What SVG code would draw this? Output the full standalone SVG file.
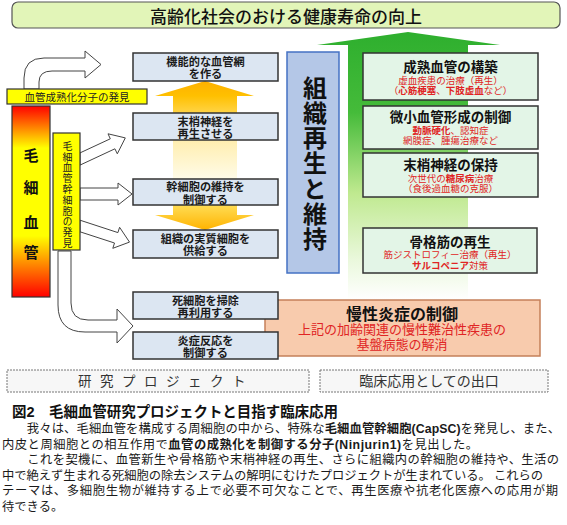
<svg xmlns="http://www.w3.org/2000/svg" width="567" height="525" viewBox="0 0 567 525">
<defs>
<linearGradient id="gGreen" x1="0" y1="32" x2="0" y2="300" gradientUnits="userSpaceOnUse">
<stop offset="0" stop-color="#2eaf2e"/>
<stop offset="0.3" stop-color="#45bb3a"/>
<stop offset="0.6" stop-color="#bfe98f"/>
<stop offset="0.85" stop-color="#eaf8dc"/>
<stop offset="1" stop-color="#ffffff"/>
</linearGradient>
<linearGradient id="gYellow" x1="0" y1="81" x2="0" y2="230" gradientUnits="userSpaceOnUse">
<stop offset="0" stop-color="#ffb000"/>
<stop offset="0.1" stop-color="#ffc000"/>
<stop offset="0.22" stop-color="#ffd54a"/>
<stop offset="0.4" stop-color="#ffeeb0"/>
<stop offset="0.65" stop-color="#fffbe6"/>
<stop offset="0.83" stop-color="#ffdd55"/>
<stop offset="1" stop-color="#ffb300"/>
</linearGradient>
<linearGradient id="gCap" x1="0" y1="106" x2="0" y2="297" gradientUnits="userSpaceOnUse">
<stop offset="0" stop-color="#ff0000"/>
<stop offset="0.22" stop-color="#ffff00"/>
<stop offset="0.68" stop-color="#ffff00"/>
<stop offset="1" stop-color="#ff0000"/>
</linearGradient>
<style>
.j{font-family:"Liberation Sans","Noto Sans CJK JP",sans-serif;}
.l{font-family:"Liberation Sans","Noto Sans CJK JP",sans-serif;}
.mid{text-anchor:middle;}
.vt{writing-mode:vertical-rl;}
.bx{fill:#dce6f2;stroke:#333;stroke-width:1.5;}
.gb{fill:#e3f5e7;stroke:#333;stroke-width:1.5;}
.yl{fill:#ffff00;stroke:#333;stroke-width:1.2;}
.oa{fill:#ffffff;stroke:#444;stroke-width:1;}
.dash{fill:#f7f7f7;stroke:#777;stroke-width:1;stroke-dasharray:2 1;}
.bt{font-size:11.2px;font-weight:700;fill:#1a1a1a;}
.gt{font-size:13.5px;font-weight:700;fill:#111;}
.rt{font-size:9.5px;fill:#e02424;}
.b{font-weight:700;}
.body{font-size:12.3px;fill:#1a1a1a;}
</style>
</defs>

<g id="title">
<rect x="12" y="2" width="548" height="26" rx="6" fill="#e2f5b8" stroke="#555" stroke-width="1.2"/>
<text class="j mid" x="286" y="23" font-size="17" font-weight="500" fill="#111">高齢化社会のおける健康寿命の向上</text>
</g>

<g id="connectors">
<path id="greenArrow" d="M408,32 L500,45 H468 V300 H348 V45 H317 Z" fill="url(#gGreen)"/>
<path id="yellowArrow" d="M205,81 L254,96 H237 V215 H254 L205,230 L155,215 H173 V96 H155 Z" fill="url(#gYellow)"/>
<path id="arrow1" class="oa" d="M24,89 V78 Q24,58 44,58 H85 V51 L101,64.5 L85,78 V71 H52 Q39,71 39,82 V89 Z"/>
<path id="arrow2" class="oa" d="M80,152.9 L110.3,138.8 L108,133.8 L125.3,137.9 L117.3,153.8 L114.9,148.8 L80,165.1 Z"/>
<path id="arrow3" class="oa" d="M80,188 H118 V183 L132,194 L118,205 V200 H80 Z"/>
<path id="arrow4" class="oa" d="M80,220.2 L117.9,232.6 L119.6,227.3 L129.5,242.1 L112.8,248.3 L114.5,243 L80,231.8 Z"/>
<path id="arrow5" class="oa" d="M58,251 V305 Q58,332 85,332 H117 V343 L133,326 L117,309 V320 H88 Q71,320 71,303 V251 Z"/>
</g>

<g id="capillary">
<rect x="12" y="106" width="38" height="191" fill="url(#gCap)" stroke="#333" stroke-width="1.2"/>
<text class="j mid" x="31" font-size="15" font-weight="700" fill="#111"><tspan x="31" y="160.7">毛</tspan><tspan x="31" y="192.7">細</tspan><tspan x="31" y="227.7">血</tspan><tspan x="31" y="257.7">管</tspan></text>
</g>

<g id="maturation">
<rect class="yl" x="7" y="89" width="140" height="15"/>
<text class="j mid" x="77" y="101.3" font-size="10.5" fill="#222">血管成熟化分子の発見</text>
</g>

<g id="stemcell">
<rect class="yl" x="53" y="133" width="27" height="117"/>
<text class="j vt" x="66.5" y="141" font-size="10" letter-spacing="0.8" fill="#222">毛細血管幹細胞の発見</text>
</g>

<g id="boxA">
<rect class="bx" x="133" y="53" width="145" height="28"/>
<text class="j mid bt" x="205.5" y="65.5">機能的な血管網</text>
<text class="j mid bt" x="205.5" y="78">を作る</text>
</g>
<g id="boxB">
<rect class="bx" x="133" y="113" width="145" height="27"/>
<text class="j mid bt" x="205.5" y="125.5">末梢神経を</text>
<text class="j mid bt" x="205.5" y="138">再生させる</text>
</g>
<g id="boxC">
<rect class="bx" x="133" y="179" width="145" height="26"/>
<text class="j mid bt" x="205.5" y="191.3">幹細胞の維持を</text>
<text class="j mid bt" x="205.5" y="203.8">制御する</text>
</g>
<g id="boxD">
<rect class="bx" x="133" y="230" width="145" height="28"/>
<text class="j mid bt" x="205.5" y="242.5">組織の実質細胞を</text>
<text class="j mid bt" x="205.5" y="255">供給する</text>
</g>

<g id="inflammation">
<rect x="265" y="300" width="275" height="56" fill="#f8cbad" stroke="#c5805a" stroke-width="1.5"/>
<text class="j mid" x="402" y="319.5" font-size="16" font-weight="700" fill="#111">慢性炎症の制御</text>
<text class="j mid" x="402" y="334" font-size="13" fill="#e02424">上記の加齢関連の慢性難治性疾患の</text>
<text class="j mid" x="402" y="348.5" font-size="13" fill="#e02424">基盤病態の解消</text>
</g>

<g id="boxE">
<rect class="bx" x="133" y="292" width="145" height="27"/>
<text class="j mid bt" x="205.5" y="304.5">死細胞を掃除</text>
<text class="j mid bt" x="205.5" y="317">再利用する</text>
</g>
<g id="boxF">
<rect class="bx" x="133" y="332" width="145" height="27"/>
<text class="j mid bt" x="205.5" y="344.5">炎症反応を</text>
<text class="j mid bt" x="205.5" y="357">制御する</text>
</g>

<g id="tissue">
<rect x="287" y="52" width="52" height="221" fill="#b4c7e7" stroke="#4472c4" stroke-width="1.5"/>
<text class="j vt" x="313" y="76" font-size="24" font-weight="700" letter-spacing="1.1" fill="#111">組織再生と維持</text>
</g>

<g id="g1">
<rect class="gb" x="363" y="53" width="175" height="47"/>
<text class="j mid gt" x="450.5" y="71.5">成熟血管の構築</text>
<text class="j mid rt" x="450.5" y="83.5">虚血疾患の治療（再生）</text>
<text class="j mid rt" x="450.5" y="94">（<tspan class="b">心筋梗塞</tspan>、<tspan class="b">下肢虚血</tspan>など）</text>
</g>
<g id="g2">
<rect class="gb" x="363" y="106" width="175" height="43"/>
<text class="j mid gt" x="450.5" y="122">微小血管形成の制御</text>
<text class="j mid rt" x="450.5" y="133.5"><tspan class="b">動脈硬化</tspan>、認知症</text>
<text class="j mid rt" x="450.5" y="144">網膜症、腫瘍治療など</text>
</g>
<g id="g3">
<rect class="gb" x="363" y="153" width="175" height="44"/>
<text class="j mid gt" x="450.5" y="169.5">末梢神経の保持</text>
<text class="j mid rt" x="450.5" y="181.5">次世代の<tspan class="b">糖尿病</tspan>治療</text>
<text class="j mid rt" x="450.5" y="192">（食後過血糖の克服）</text>
</g>
<g id="g4">
<rect class="gb" x="363" y="228" width="174" height="45"/>
<text class="j mid gt" x="450" y="246.5">骨格筋の再生</text>
<text class="j mid rt" x="450" y="258">筋ジストロフィー治療（再生）</text>
<text class="j mid rt" x="450" y="268.5"><tspan class="b">サルコペニア</tspan>対策</text>
</g>

<g id="labelResearch">
<rect class="dash" x="7" y="370" width="302" height="22"/>
<text class="j" x="78" y="386" font-size="13.5" letter-spacing="8.5" fill="#333">研究プロジェクト</text>
</g>
<g id="labelClinical">
<rect class="dash" x="320" y="370" width="228" height="22"/>
<text class="j mid" x="429" y="386" font-size="14" fill="#333">臨床応用としての出口</text>
</g>

<g id="caption">
<text class="l" x="12" y="417" font-size="14.5" font-weight="700" fill="#111" textLength="326" lengthAdjust="spacing">図2　毛細血管研究プロジェクトと目指す臨床応用</text>
<text class="l body" x="2" y="433" textLength="558" lengthAdjust="spacing">　　我々は、毛細血管を構成する周細胞の中から、特殊な<tspan class="b">毛細血管幹細胞(CapSC)</tspan>を発見し、また、</text>
<text class="l body" x="2" y="448.5" textLength="476" lengthAdjust="spacing">内皮と周細胞との相互作用で<tspan class="b">血管の成熟化を制御する分子(Ninjurin1)</tspan>を見出した。</text>
<text class="l body" x="2" y="464" textLength="557" lengthAdjust="spacing">　　これを契機に、血管新生や骨格筋や末梢神経の再生、さらに組織内の幹細胞の維持や、生活の</text>
<text class="l body" x="2" y="479.5" textLength="541" lengthAdjust="spacing">中で絶えず生まれる死細胞の除去システムの解明にむけたプロジェクトが生まれている。 これらの</text>
<text class="l body" x="2" y="495" textLength="556" lengthAdjust="spacing">テーマは、多細胞生物が維持する上で必要不可欠なことで、再生医療や抗老化医療への応用が期</text>
<text class="l body" x="2" y="510.5">待できる。</text>
</g>
</svg>
